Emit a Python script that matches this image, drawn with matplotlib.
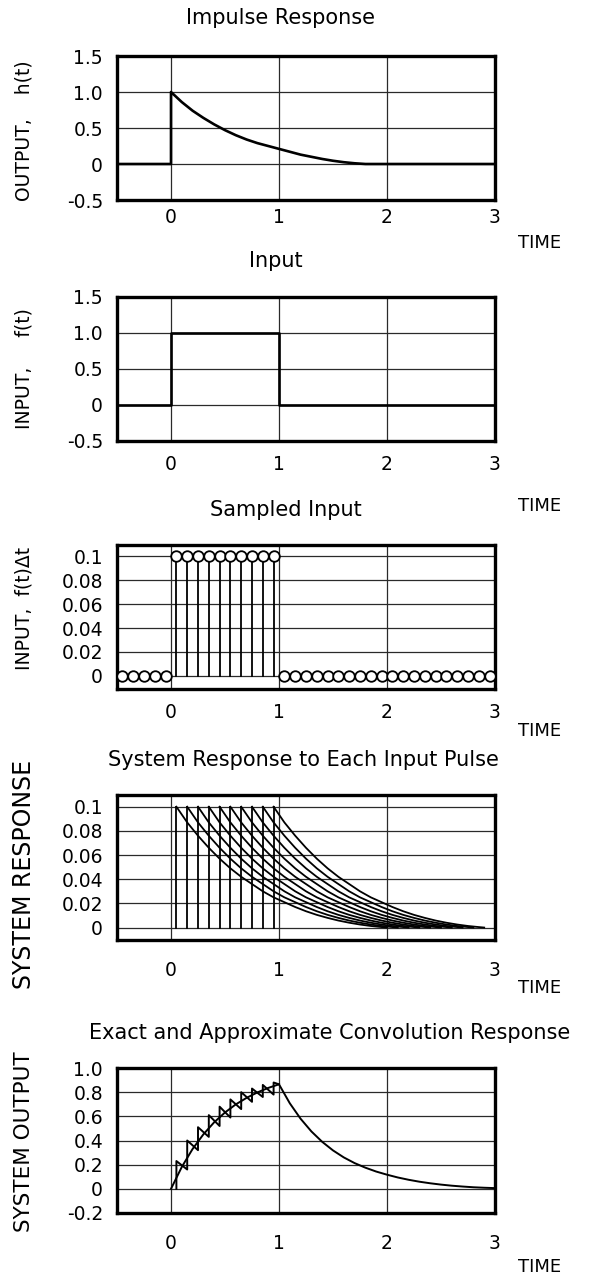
import matplotlib
matplotlib.use("Agg")
import matplotlib.pyplot as plt

# ---------------- data ----------------
time_ticks = [0, 1, 2, 3]
time_tick_labels = ["0", "1", "2", "3"]

# Panel 1: impulse response h(t)
h_t = [-0.5, 0.0, 0.0, 0.1, 0.2, 0.3, 0.4, 0.5, 0.6, 0.7, 0.8, 0.9, 1.0,
       1.1, 1.2, 1.3, 1.4, 1.5, 1.6, 1.7, 1.8, 3.0]
h_vals = [0.0, 0.0, 1.0, 0.86, 0.74, 0.64, 0.55, 0.47, 0.40, 0.34, 0.29, 0.25, 0.21,
          0.17, 0.13, 0.10, 0.07, 0.045, 0.025, 0.01, 0.0, 0.0]
p1_yticks = [-0.5, 0, 0.5, 1.0, 1.5]
p1_ylabels = ["-0.5", "0", "0.5", "1.0", "1.5"]

# Panel 2: input f(t)
f_t = [-0.5, 0.0, 0.0, 1.0, 1.0, 3.0]
f_vals = [0.0, 0.0, 1.0, 1.0, 0.0, 0.0]

# Panel 3: sampled input f(t)Δt
sample_t = [-0.45, -0.35, -0.25, -0.15, -0.05,
            0.05, 0.15, 0.25, 0.35, 0.45, 0.55, 0.65, 0.75, 0.85, 0.95,
            1.05, 1.15, 1.25, 1.35, 1.45, 1.55, 1.65, 1.75, 1.85, 1.95,
            2.05, 2.15, 2.25, 2.35, 2.45, 2.55, 2.65, 2.75, 2.85, 2.95]
sample_vals = [0, 0, 0, 0, 0,
               0.1, 0.1, 0.1, 0.1, 0.1, 0.1, 0.1, 0.1, 0.1, 0.1,
               0, 0, 0, 0, 0, 0, 0, 0, 0, 0,
               0, 0, 0, 0, 0, 0, 0, 0, 0, 0]
small_yticks = [0, 0.02, 0.04, 0.06, 0.08, 0.1]
small_ylabels = ["0", "0.02", "0.04", "0.06", "0.08", "0.1"]

# Panel 4: response to each input pulse
pulse_t = [0.05, 0.15, 0.25, 0.35, 0.45, 0.55, 0.65, 0.75, 0.85, 0.95]
pulse_height = 0.1
decay_offsets = [0.0, 0.1, 0.2, 0.3, 0.4, 0.5, 0.6, 0.7, 0.8, 0.9, 1.0,
                 1.1, 1.2, 1.3, 1.4, 1.5, 1.6, 1.7, 1.8, 1.9, 1.95]
decay_vals = [0.100, 0.087, 0.076, 0.066, 0.057, 0.049, 0.042, 0.036, 0.030, 0.025, 0.021,
              0.017, 0.0135, 0.0105, 0.008, 0.0058, 0.004, 0.0025, 0.0013, 0.0004, 0.0]

# Panel 5: exact and approximate convolution
exact_t = [0.0, 0.1, 0.2, 0.3, 0.4, 0.5, 0.6, 0.7, 0.8, 0.9, 1.0,
           1.1, 1.2, 1.3, 1.4, 1.5, 1.6, 1.7, 1.8, 1.9, 2.0,
           2.1, 2.2, 2.3, 2.4, 2.5, 2.6, 2.7, 2.8, 2.9, 3.0]
exact_vals = [0.0, 0.181, 0.330, 0.451, 0.551, 0.632, 0.699, 0.753, 0.798, 0.835, 0.865,
              0.708, 0.580, 0.475, 0.389, 0.318, 0.260, 0.213, 0.175, 0.143, 0.117,
              0.094, 0.075, 0.059, 0.046, 0.035, 0.026, 0.019, 0.013, 0.009, 0.006]
approx_t = [0.05, 0.05, 0.15, 0.15, 0.25, 0.25, 0.35, 0.35, 0.45, 0.45, 0.55,
            0.55, 0.65, 0.65, 0.75, 0.75, 0.85, 0.85, 0.95, 0.95, 1.0]
approx_vals = [0.0, 0.23, 0.16, 0.40, 0.32, 0.51, 0.43, 0.61, 0.52, 0.68, 0.59,
               0.74, 0.66, 0.80, 0.72, 0.83, 0.76, 0.86, 0.78, 0.88, 0.865]
p5_yticks = [-0.2, 0, 0.2, 0.4, 0.6, 0.8, 1.0]
p5_ylabels = ["-0.2", "0", "0.2", "0.4", "0.6", "0.8", "1.0"]

# ---------------- figure ----------------
W, H = 599, 1282
fig = plt.figure(figsize=(W / 100, H / 100), dpi=100)
plt.rcParams["font.family"] = "DejaVu Sans"

TITLE_SIZE = 15
TICK_SIZE = 13.5
TIME_SIZE = 13


def make_axes(top_px, bottom_px, left_px=117, right_px=495):
    return fig.add_axes([left_px / W, 1 - bottom_px / H,
                         (right_px - left_px) / W, (bottom_px - top_px) / H])


def style(ax, ylim, yticks, ylabels, xpad):
    ax.set_xlim(-0.5, 3)
    ax.set_ylim(*ylim)
    ax.set_xticks(time_ticks)
    ax.set_xticklabels(time_tick_labels)
    ax.set_yticks(yticks)
    ax.set_yticklabels(ylabels)
    ax.tick_params(length=0, labelsize=TICK_SIZE, colors="black")
    ax.tick_params(axis="y", pad=10)
    ax.tick_params(axis="x", pad=xpad)
    ax.grid(True, color="#2a2a2a", linewidth=0.9)
    ax.set_axisbelow(True)
    for s in ax.spines.values():
        s.set_linewidth(2.4)
        s.set_color("black")


def ftext(x, y, s, size, **kw):
    fig.text(x / W, 1 - y / H, s, fontsize=size, ha="center", va="center", **kw)


# Panel 1
ax1 = make_axes(56, 200)
ax1.plot(h_t, h_vals, color="black", linewidth=1.9)
style(ax1, (-0.5, 1.5), p1_yticks, p1_ylabels, 6)
ftext(281, 18, "Impulse Response", TITLE_SIZE)
ftext(24, 131, "OUTPUT,    h(t)", 13.5, rotation=90)
ftext(540, 243, "TIME", TIME_SIZE)

# Panel 2
ax2 = make_axes(297, 441)
ax2.plot(f_t, f_vals, color="black", linewidth=1.9)
style(ax2, (-0.5, 1.5), p1_yticks, p1_ylabels, 10)
ftext(276, 261, "Input", TITLE_SIZE)
ftext(24, 369, "INPUT,     f(t)", 13.5, rotation=90)
ftext(540, 506, "TIME", TIME_SIZE)

# Panel 3
ax3 = make_axes(545, 689)
for t, v in zip(sample_t, sample_vals):
    if v != 0:
        ax3.plot([t, t], [0, v], color="black", linewidth=1.3)
ax3.plot(sample_t, sample_vals, linestyle="none", marker="o", markersize=7.6,
         markerfacecolor="white", markeredgecolor="black", markeredgewidth=1.3,
         clip_on=False, zorder=3)
style(ax3, (-0.011, 0.1095), small_yticks, small_ylabels, 10)
ftext(286, 510, "Sampled Input", TITLE_SIZE)
ftext(24, 608, "INPUT,  f(t)\u0394t", 13.5, rotation=90)
ftext(540, 731, "TIME", TIME_SIZE)

# Panel 4
ax4 = make_axes(795, 940)
for t0 in pulse_t:
    ax4.plot([t0, t0], [0, pulse_height], color="black", linewidth=1.3)
    xs = [t0 + d for d in decay_offsets]
    ax4.plot(xs, decay_vals, color="black", linewidth=1.3)
style(ax4, (-0.0103, 0.1097), small_yticks, small_ylabels, 15)
ftext(303, 760, "System Response to Each Input Pulse", TITLE_SIZE)
ftext(24, 874, "SYSTEM RESPONSE", 17, rotation=90)
ftext(540, 988, "TIME", TIME_SIZE)

# Panel 5
ax5 = make_axes(1068, 1213)
ax5.plot(exact_t, exact_vals, color="black", linewidth=1.4)
ax5.plot(approx_t, approx_vals, color="black", linewidth=1.4)
style(ax5, (-0.2, 1.0), p5_yticks, p5_ylabels, 15)
ftext(330, 1033, "Exact and Approximate Convolution Response", TITLE_SIZE)
ftext(24, 1142, "SYSTEM OUTPUT", 15.5, rotation=90)
ftext(540, 1267, "TIME", TIME_SIZE)

fig.savefig("out.png", dpi=100)
